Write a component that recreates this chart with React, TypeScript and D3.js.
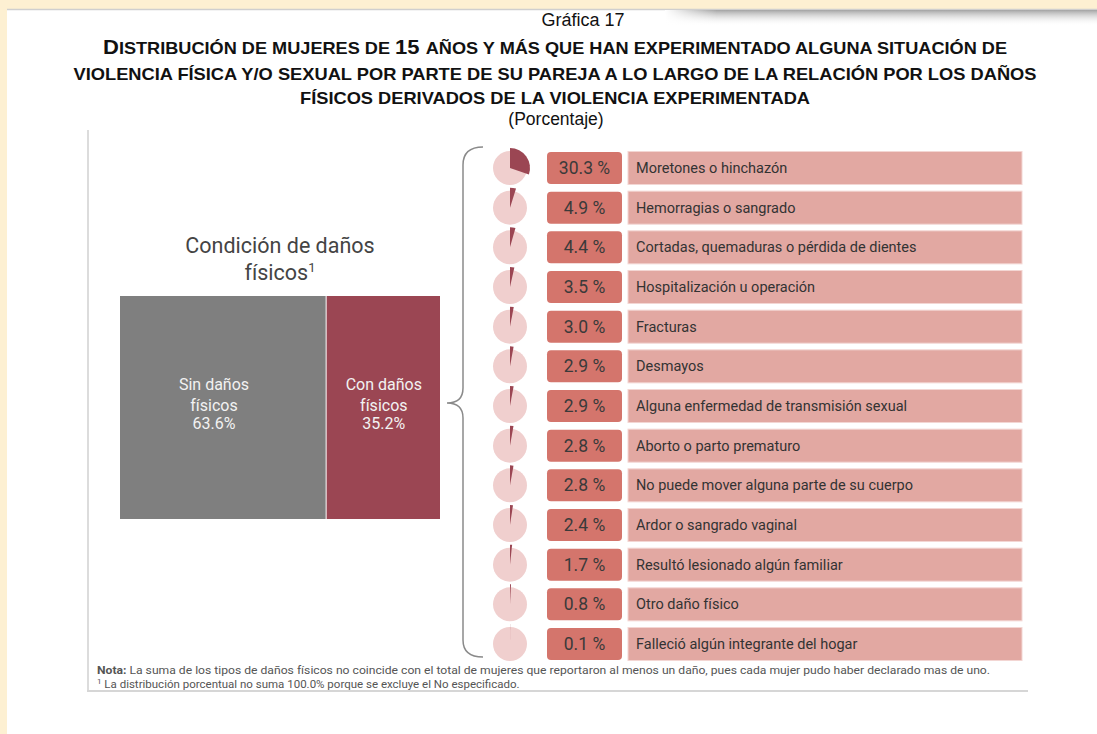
import React from "react";
import * as d3 from "d3";

const categories = [
  "Moretones o hinchazón",
  "Hemorragias o sangrado",
  "Cortadas, quemaduras o pérdida de dientes",
  "Hospitalización u operación",
  "Fracturas",
  "Desmayos",
  "Alguna enfermedad de transmisión sexual",
  "Aborto o parto prematuro",
  "No puede mover alguna parte de su cuerpo",
  "Ardor o sangrado vaginal",
  "Resultó lesionado algún familiar",
  "Otro daño físico",
  "Falleció algún integrante del hogar",
];
const values = [30.3, 4.9, 4.4, 3.5, 3.0, 2.9, 2.9, 2.8, 2.8, 2.4, 1.7, 0.8, 0.1];

const conditionLabels = [
  ["Sin daños", "físicos"],
  ["Con daños", "físicos"],
];
const conditionValues = [63.6, 35.2];

const titleLines = [
  "Distribución de mujeres de 15 años y más que han experimentado alguna situación de",
  "violencia física y/o sexual por parte de su pareja a lo largo de la relación por los daños",
  "físicos derivados de la violencia experimentada",
];

const W = 1097;
const H = 734;

function smallCaps(s: string, big: number, small: number) {
  const runs: { t: string; big: boolean }[] = [];
  for (const ch of s) {
    const isBig = ch !== ch.toLowerCase() || /[0-9]/.test(ch);
    const isSpace = ch === " ";
    const last = runs[runs.length - 1];
    const kind = isSpace ? (last ? last.big : false) : isBig;
    if (last && last.big === kind) last.t += ch;
    else runs.push({ t: ch, big: kind });
  }
  return runs.map((r, i) => (
    <tspan key={i} fontSize={r.big ? big : small}>
      {r.t.toUpperCase()}
    </tspan>
  ));
}

export default function App() {
  const yRow = d3.scalePoint<string>().domain(categories).range([168, 644]);
  const xCond = d3.scaleLinear().domain([0, d3.sum(conditionValues)]).range([120, 441]);
  const pie = d3.pie<number>().sort(null).value((d) => d);
  const arcBig = d3.arc<d3.PieArcDatum<number>>().innerRadius(0).outerRadius(20);

  const titleWidths = [904, 963, 510];
  const titleY = [54, 80, 104];

  const condX0 = [0, conditionValues[0]];
  const font = "Roboto, 'Noto Sans', sans-serif";

  return (
    <div style={{ position: "absolute", left: 0, top: 0 }}>
      <svg width={W} height={H} style={{ display: "block" }}>
        <defs>
          <linearGradient id="shadowV" x1="0" y1="0" x2="0" y2="1">
            <stop offset="0" stopColor="#9a9a9a" stopOpacity="0.9" />
            <stop offset="1" stopColor="#ffffff" stopOpacity="0" />
          </linearGradient>
          <linearGradient id="shadowH" x1="0" y1="0" x2="1" y2="0">
            <stop offset="0" stopColor="#fff" stopOpacity="1" />
            <stop offset="0.12" stopColor="#fff" stopOpacity="0" />
          </linearGradient>
        </defs>
        <rect x={0} y={0} width={W} height={H} fill="#FDF0D2" />
        <rect x={7} y={9} width={W - 7} height={H - 9} fill="#ffffff" />
        <line x1={7} x2={W} y1={9.5} y2={9.5} stroke="#cfcfcf" strokeWidth={1.5} />
        <rect x={665} y={10} width={W - 665} height={16} fill="url(#shadowV)" />
        <rect x={665} y={10} width={W - 665} height={16} fill="url(#shadowH)" />

        {/* Title */}
        <text x={583} y={26} textAnchor="middle" fontFamily="'Liberation Sans', Arial, sans-serif" fontSize={18} fill="#111">
          Gráfica 17
        </text>
        {titleLines.map((l, i) => (
          <text
            key={i}
            x={555}
            y={titleY[i]}
            textAnchor="middle"
            fontFamily="'Liberation Sans', Arial, sans-serif"
            fontWeight="bold"
            fill="#111"
            textLength={titleWidths[i]}
            lengthAdjust="spacingAndGlyphs"
          >
            {smallCaps(l, 20, 16.5)}
          </text>
        ))}
        <text x={556} y={125} textAnchor="middle" fontFamily="'Liberation Sans', Arial, sans-serif" fontSize={17.5} fill="#111">
          (Porcentaje)
        </text>

        {/* Frame */}
        <line x1={88} x2={88} y1={130} y2={692} stroke="#dcdcdc" strokeWidth={2} />
        <line x1={87} x2={1028} y1={691} y2={691} stroke="#d6d6d6" strokeWidth={2} />

        {/* Left panel */}
        <text x={280} y={253} textAnchor="middle" fontFamily={font} fontSize={21.5} fill="#444">
          Condición de daños
        </text>
        <text x={280} y={280} textAnchor="middle" fontFamily={font} fontSize={21.5} fill="#444">
          físicos<tspan fontSize={13} dy={-8}>1</tspan>
        </text>
        {conditionValues.map((v, i) => {
          const x0 = xCond(condX0[i]);
          const x1 = xCond(condX0[i] + v);
          const cx = i === 0 ? x0 + (x1 - x0) * 0.455 : (x0 + x1) / 2;
          return (
            <g key={i}>
              <rect x={x0} y={296} width={x1 - x0 - 1} height={223} fill={i === 0 ? "#7F7F7F" : "#9B4653"} />
              {conditionLabels[i].map((t, j) => (
                <text key={j} x={cx} y={390 + j * 21} textAnchor="middle" fontFamily={font} fontSize={16} fill="#f2f2f2">
                  {t}
                </text>
              ))}
              <text x={cx} y={429} textAnchor="middle" fontFamily={font} fontSize={16} fill="#f2f2f2">
                {d3.format(".1f")(v)}%
              </text>
            </g>
          );
        })}

        {/* Brace */}
        <path
          d="M483,147 Q463,147 463,165 L463,388 Q463,403 447,403 Q463,403 463,418 L463,640 Q463,657 483,657"
          fill="none"
          stroke="#8a8a8a"
          strokeWidth={1.5}
        />

        {/* Rows */}
        {categories.map((c, i) => {
          const y = yRow(c)!;
          const arcs = pie([values[i], 100 - values[i]]);
          return (
            <g key={c}>
              <circle cx={510} cy={y} r={17} fill="#F0CFCE" />
              <path d={arcBig(arcs[0]) || ""} transform={`translate(510,${y})`} fill="#9B4653" />
              <rect x={547} y={y - 16} width={75} height={32} rx={4} fill="#D4756C" />
              <text x={584.5} y={y + 6} textAnchor="middle" fontFamily={font} fontSize={17.5} fill="#3a3a3a">
                {d3.format(".1f")(values[i])} %
              </text>
              <rect x={628} y={y - 16.5} width={394} height={33} fill="#E2A8A2" stroke="#F3D6D3" strokeWidth={1} />
              <text x={636} y={y + 5} fontFamily={font} fontSize={14.5} fill="#333">
                {c}
              </text>
            </g>
          );
        })}

        {/* Notes */}
        <text x={97} y={674} fontFamily={font} fontSize={11.5} fill="#555" textLength={893} lengthAdjust="spacingAndGlyphs">
          <tspan fontWeight="bold">Nota:</tspan> La suma de los tipos de daños físicos  no coincide con el  total de mujeres que reportaron al menos un daño, pues cada mujer pudo haber declarado mas de uno.
        </text>
        <text x={97} y={688} fontFamily={font} fontSize={11.5} fill="#555">
          <tspan fontSize={8} dy={-4}>1</tspan>
          <tspan dy={4}> La distribución porcentual no suma 100.0% porque se excluye el No especificado.</tspan>
        </text>
      </svg>
    </div>
  );
}
